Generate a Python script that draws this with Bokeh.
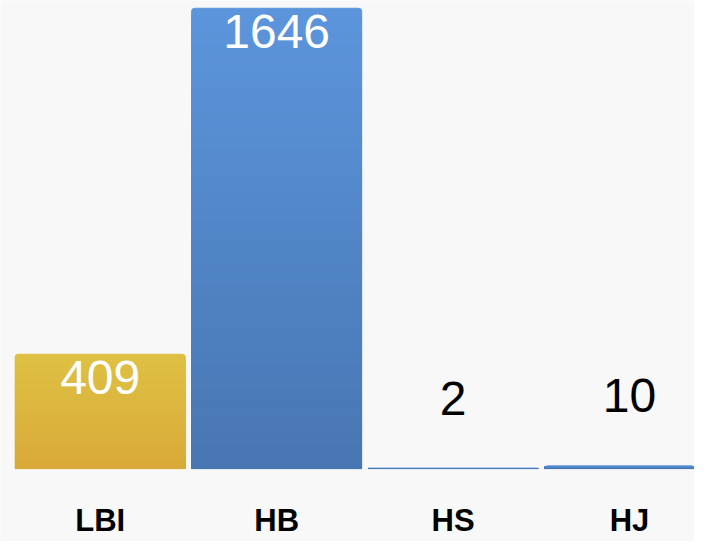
import numpy as np
from bokeh.plotting import figure
from bokeh.models import ColumnDataSource, Range1d
from bokeh.core.properties import value
from bokeh.embed import file_html
from bokeh.resources import INLINE

# ---- data ----
categories = ["LBI", "HB", "HS", "HJ"]
values = [409, 1646, 2, 10]
top_colors = ["#dec143", "#5c95dc", "#5c95dc", "#5c95dc"]
bottom_colors = ["#d9a939", "#4876b2", "#4876b2", "#4876b2"]

# ---- layout (reference scaled to fit 694x541) ----
W, H = 694, 541
sx, sy = W / 710, H / 557
step_px = 180.5 * sx
first_center = 102 * sx
bar_px = 174 * sx
base_px = 482 * sy
top_px = 8 * sy
ppu = (base_px - top_px) / max(values)   # px per value unit

x_start = -first_center / step_px
x_end = x_start + W / step_px
y_end = max(values) + top_px / ppu
y_start = y_end - H / ppu
bar_w = bar_px / step_px

p = figure(width=W, height=H, output_backend="svg", toolbar_location=None,
           x_range=Range1d(x_start, x_end), y_range=Range1d(y_start, y_end),
           min_border=0, min_border_left=0, min_border_right=0,
           min_border_top=0, min_border_bottom=0)
p.axis.visible = False
p.grid.visible = False
p.outline_line_color = None
p.background_fill_color = "#f8f8f8"
p.border_fill_color = "#f8f8f8"


def hex2rgb(h):
    h = h.lstrip("#")
    return np.array([int(h[i:i + 2], 16) for i in (0, 2, 4)], dtype=float)


def rgb2hex(c):
    return "#%02x%02x%02x" % tuple(int(round(v)) for v in c)


xs = np.arange(len(categories))
N = 80
# vertical gradient: full bar first, then shorter bottom-anchored bars
for k in range(N - 1, -1, -1):
    frac = (k + 0.5) / N
    tops, cols = [], []
    for v, ct, cb in zip(values, top_colors, bottom_colors):
        tops.append(v * (k + 1) / N)
        cols.append(rgb2hex(hex2rgb(cb) + (hex2rgb(ct) - hex2rgb(cb)) * frac))
    src = ColumnDataSource(dict(x=xs, top=tops, color=cols))
    if k == N - 1:
        kw = dict(border_radius=(3, 3, 0, 0), line_color="color", line_width=1)
    else:
        kw = dict(line_color=None)
    p.vbar(x="x", top="top", bottom=0, width=bar_w, fill_color="color",
           source=src, **kw)

# value labels: inside (white) for tall bars, above (black) for short ones
inside = [v * ppu > 60 for v in values]
idx_in = [i for i in range(len(values)) if inside[i]]
idx_out = [i for i in range(len(values)) if not inside[i]]
in_src = ColumnDataSource(dict(x=[xs[i] for i in idx_in],
                               y=[values[i] for i in idx_in],
                               t=[str(values[i]) for i in idx_in]))
out_src = ColumnDataSource(dict(x=[xs[i] for i in idx_out],
                                y=[values[i] for i in idx_out],
                                t=[str(values[i]) for i in idx_out]))

val_size = "%dpx" % round(49 * sy)
p.text(x="x", y="y", text="t", source=in_src, text_color="white",
       text_font=value("Liberation Sans"), text_font_size=val_size,
       text_align="center", text_baseline="middle", y_offset=24 * sy)
p.text(x="x", y="y", text="t", source=out_src, text_color="black",
       text_font=value("Liberation Sans"), text_font_size=val_size,
       text_align="center", text_baseline="middle", y_offset=-72 * sy)

# category labels
cat_src = ColumnDataSource(dict(x=xs, y=[0] * len(categories), t=categories))
p.text(x="x", y="y", text="t", source=cat_src, text_color="black",
       text_font=value("Liberation Sans"), text_font_size="%dpx" % round(32 * sy),
       text_font_style="bold", text_align="center", text_baseline="middle",
       y_offset=53 * sy)

open("out.html", "w").write(file_html(p, INLINE))
